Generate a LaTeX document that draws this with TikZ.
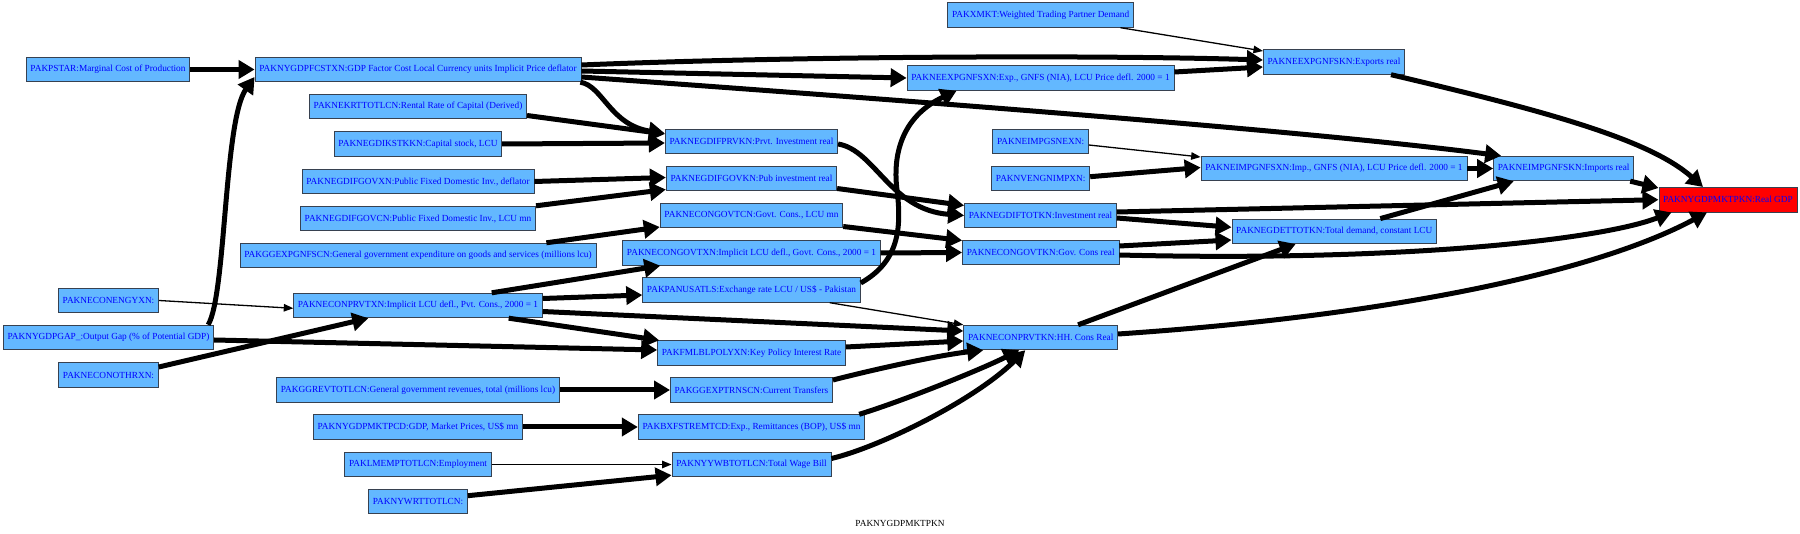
\documentclass[tikz,border=0pt]{standalone}
\usepackage{fontspec}
\setmainfont{Liberation Serif}
\usetikzlibrary{arrows.meta}
\definecolor{boxblue}{RGB}{99,184,255}
\definecolor{bordc}{RGB}{55,65,80}
\newcommand{\dgfont}{\fontsize{9.3}{11}\selectfont}
\tikzset{
  nd/.style={draw=bordc, line width=0.8pt, fill=boxblue, text=blue, inner xsep=4.3pt, inner ysep=0pt, minimum height=24.6pt, font=\dgfont},
  gdpbox/.style={nd, fill=red},
  thk/.style={line width=5pt, -{Triangle[length=16pt,width=18pt]}},
  thn/.style={line width=1.3pt, -{Triangle[length=9.5pt,width=7.5pt]}},
}
\begin{document}
\begin{tikzpicture}[x=1pt,y=-1pt]
\useasboundingbox (0,0) rectangle (1800,534);
% column 0
\node[nd] (pstar) at (108,69.5) {PAKPSTAR:Marginal Cost of Production};
\node[nd] (engy) at (108.5,300.5) {PAKNECONENGYXN:};
\node[nd] (gap) at (108.5,337.5) {PAKNYGDPGAP\_:Output Gap (\% of Potential GDP)};
\node[nd] (othr) at (108.5,375) {PAKNECONOTHRXN:};
% column 1
\node[nd] (fcstxn) at (418,69.5) {PAKNYGDPFCSTXN:GDP Factor Cost Local Currency units Implicit Price deflator};
\node[nd] (krt) at (418,106.5) {PAKNEKRTTOTLCN:Rental Rate of Capital (Derived)};
\node[nd] (kst) at (418,144) {PAKNEGDIKSTKKN:Capital stock, LCU};
\node[nd] (govxn) at (418,181.5) {PAKNEGDIFGOVXN:Public Fixed Domestic Inv., deflator};
\node[nd] (govcn) at (418,218.5) {PAKNEGDIFGOVCN:Public Fixed Domestic Inv., LCU mn};
\node[nd] (ggexp) at (418,255.5) {PAKGGEXPGNFSCN:General government expenditure on goods and services (millions lcu)};
\node[nd] (prvtxn) at (418,305.5) {PAKNECONPRVTXN:Implicit LCU defl., Pvt. Cons., 2000 = 1};
\node[nd] (ggrev) at (418,390) {PAKGGREVTOTLCN:General government revenues, total (millions lcu)};
\node[nd] (mktpcd) at (418,427) {PAKNYGDPMKTPCD:GDP, Market Prices, US\$ mn};
\node[nd] (emp) at (418,464.5) {PAKLMEMPTOTLCN:Employment};
\node[nd] (wrt) at (418,501.5) {PAKNYWRTTOTLCN:};
% column 2
\node[nd] (prvkn) at (751.5,141.5) {PAKNEGDIFPRVKN:Prvt. Investment real};
\node[nd] (govkn) at (751.5,178.5) {PAKNEGDIFGOVKN:Pub investment real};
\node[nd] (govtcn) at (751.5,215.5) {PAKNECONGOVTCN:Govt. Cons., LCU mn};
\node[nd] (govtxn) at (751.5,253) {PAKNECONGOVTXN:Implicit LCU defl., Govt. Cons., 2000 = 1};
\node[nd] (usatls) at (751.5,290) {PAKPANUSATLS:Exchange rate LCU / US\$ - Pakistan};
\node[nd] (polyxn) at (751.5,353) {PAKFMLBLPOLYXN:Key Policy Interest Rate};
\node[nd] (trns) at (751.5,390) {PAKGGEXPTRNSCN:Current Transfers};
\node[nd] (remt) at (751.5,427) {PAKBXFSTREMTCD:Exp., Remittances (BOP), US\$ mn};
\node[nd] (wb) at (751.5,464.5) {PAKNYYWBTOTLCN:Total Wage Bill};
% column 3
\node[nd] (xmkt) at (1040.7,15) {PAKXMKT:Weighted Trading Partner Demand};
\node[nd] (expxn) at (1040.5,78) {PAKNEEXPGNFSXN:Exp., GNFS (NIA), LCU Price defl. 2000 = 1};
\node[nd] (gsnexn) at (1040.6,141.5) {PAKNEIMPGSNEXN:};
\node[nd] (imprx) at (1040.7,178.5) {PAKNVENGNIMPXN:};
\node[nd] (totkn) at (1040.5,215.5) {PAKNEGDIFTOTKN:Investment real};
\node[nd] (govtkn) at (1040.7,252.5) {PAKNECONGOVTKN:Gov. Cons real};
\node[nd] (prvtkn) at (1040.7,337.5) {PAKNECONPRVTKN:HH. Cons Real};
% column 4
\node[nd] (expkn) at (1334,62) {PAKNEEXPGNFSKN:Exports real};
\node[nd] (impxn) at (1334,168.5) {PAKNEIMPGNFSXN:Imp., GNFS (NIA), LCU Price defl. 2000 = 1};
\node[nd] (gdet) at (1334.3,231.3) {PAKNEGDETTOTKN:Total demand, constant LCU};
% column 5, 6
\node[nd] (impkn) at (1563.7,168.5) {PAKNEIMPGNFSKN:Imports real};
\node[gdpbox] (gdp) at (1728,199.7) {PAKNYGDPMKTPKN:Real GDP};
% caption
\node[font=\dgfont, text=black, inner sep=0pt] (cap) at (900,523) {PAKNYGDPMKTPKN};

% edges
\draw[thk] (pstar.east) -- (fcstxn.west);
\draw[thk] ([xshift=-6pt]gap.north east) .. controls (226,295) and (224,120) .. ([yshift=-7.5pt]fcstxn.west);
\draw[thk] ([yshift=4.5pt]fcstxn.east) .. controls (800,56) and (1100,55) .. ([yshift=2pt]expkn.west);
\draw[thk] ([yshift=-1.5pt]fcstxn.east) -- (expxn.west);
\draw[thk] ([yshift=-7.5pt]fcstxn.east) .. controls (900,100) and (1300,130) .. ([xshift=8pt]impkn.north west);
\draw[thk] ([xshift=-1pt]fcstxn.south east) .. controls (603,86) and (610,125) .. ([yshift=8pt]prvkn.west);
\draw[thk] ([yshift=-9pt]krt.east) -- ([yshift=7.5pt]prvkn.west);
\draw[thk] (kst.east) -- ([yshift=-1.5pt]prvkn.west);
\draw[thk] (govxn.east) -- ([yshift=1pt]govkn.west);
\draw[thk] (govcn.north east) -- ([yshift=-11pt]govkn.west);
\draw[thk] ([xshift=-50pt]ggexp.north east) -- ([yshift=-11.5pt]govtcn.west);
\draw[thn] (engy.east) -- ([yshift=-2.8pt]prvtxn.west);
\draw[thk] ([yshift=8pt]othr.east) -- ([xshift=75pt]prvtxn.south west);
\draw[thk] ([xshift=-51pt]prvtxn.north east) -- ([xshift=38pt]govtxn.south west);
\draw[thk] ([yshift=7pt]prvtxn.east) -- ([yshift=-5pt]usatls.west);
\draw[thk] ([yshift=-6pt]prvtxn.east) -- ([yshift=6.5pt]prvtkn.west);
\draw[thk] ([xshift=-34pt]prvtxn.south east) -- ([xshift=2pt]polyxn.north west);
\draw[thk] ([yshift=-2.5pt]gap.east) -- ([yshift=3pt]polyxn.west);
\draw[thk] (ggrev.east) -- (trns.west);
\draw[thk] (mktpcd.east) -- (remt.west);
\draw[thn] (emp.east) -- (wb.west);
\draw[thk] ([yshift=5.8pt]wrt.east) -- ([yshift=2pt]wb.south west);
\draw[thk] ([yshift=-2.5pt]prvkn.east) .. controls (875,150) and (890,210) .. (totkn.west);
\draw[thk] ([yshift=-10pt]govkn.east) -- ([yshift=10pt]totkn.west);
\draw[thk] ([yshift=-11pt]govtcn.east) -- ([yshift=12pt]govtkn.west);
\draw[thk] (govtxn.east) -- (govtkn.west);
\draw[thk] ([yshift=7pt]usatls.east) .. controls (898,262) and (902,230) .. (897,190) .. controls (892,150) and (905,115) .. ([xshift=50pt]expxn.south west);
\draw[thn] ([xshift=-31pt]usatls.south east) -- (prvtkn.north west);
\draw[thk] ([yshift=6pt]polyxn.east) -- ([yshift=-3.5pt]prvtkn.west);
\draw[thk] ([yshift=10pt]trns.east) .. controls (880,368) and (940,355) .. ([xshift=20pt]prvtkn.south west);
\draw[thk] ([xshift=-6pt]remt.north east) .. controls (900,402) and (980,370) .. ([xshift=56pt]prvtkn.south west);
\draw[thk] ([yshift=6pt]wb.east) .. controls (880,447) and (975,400) .. ([xshift=62pt]prvtkn.south west);
\draw[thn] ([xshift=-13.5pt]xmkt.south east) -- ([yshift=11pt]expkn.west);
\draw[thk] ([yshift=6pt]expxn.east) -- ([yshift=-5pt]expkn.west);
\draw[thn] ([yshift=-3.5pt]gsnexn.east) -- ([yshift=11.5pt]impxn.west);
\draw[thk] ([yshift=1.8pt]imprx.east) -- ([yshift=1pt]impxn.west);
\draw[thk] (impxn.east) -- (impkn.west);
\draw[thk] ([yshift=-2.5pt]totkn.east) -- ([yshift=4pt]gdet.west);
\draw[thk] ([yshift=3.5pt]totkn.east) -- (gdp.west);
\draw[thk] ([yshift=6.5pt]govtkn.east) -- ([yshift=-8.7pt]gdet.west);
\draw[thk] ([yshift=-2.5pt]govtkn.east) .. controls (1400,262) and (1600,240) .. ([xshift=13pt]gdp.south west);
\draw[thk] ([xshift=-40pt]prvtkn.north east) -- ([xshift=-38.6pt]gdet.south);
\draw[thk] ([yshift=3.5pt]prvtkn.east) .. controls (1400,315) and (1600,270) .. ([xshift=-21pt]gdp.south);
\draw[thk] ([xshift=46pt]gdet.north) -- ([xshift=-50pt]impkn.south);
\draw[thk] ([xshift=57pt]expkn.south) .. controls (1550,112) and (1650,140) .. ([xshift=-25pt]gdp.north);
\draw[thk] ([xshift=-4pt]impkn.south east) -- ([yshift=-1pt]gdp.north west);
\end{tikzpicture}
\end{document}
